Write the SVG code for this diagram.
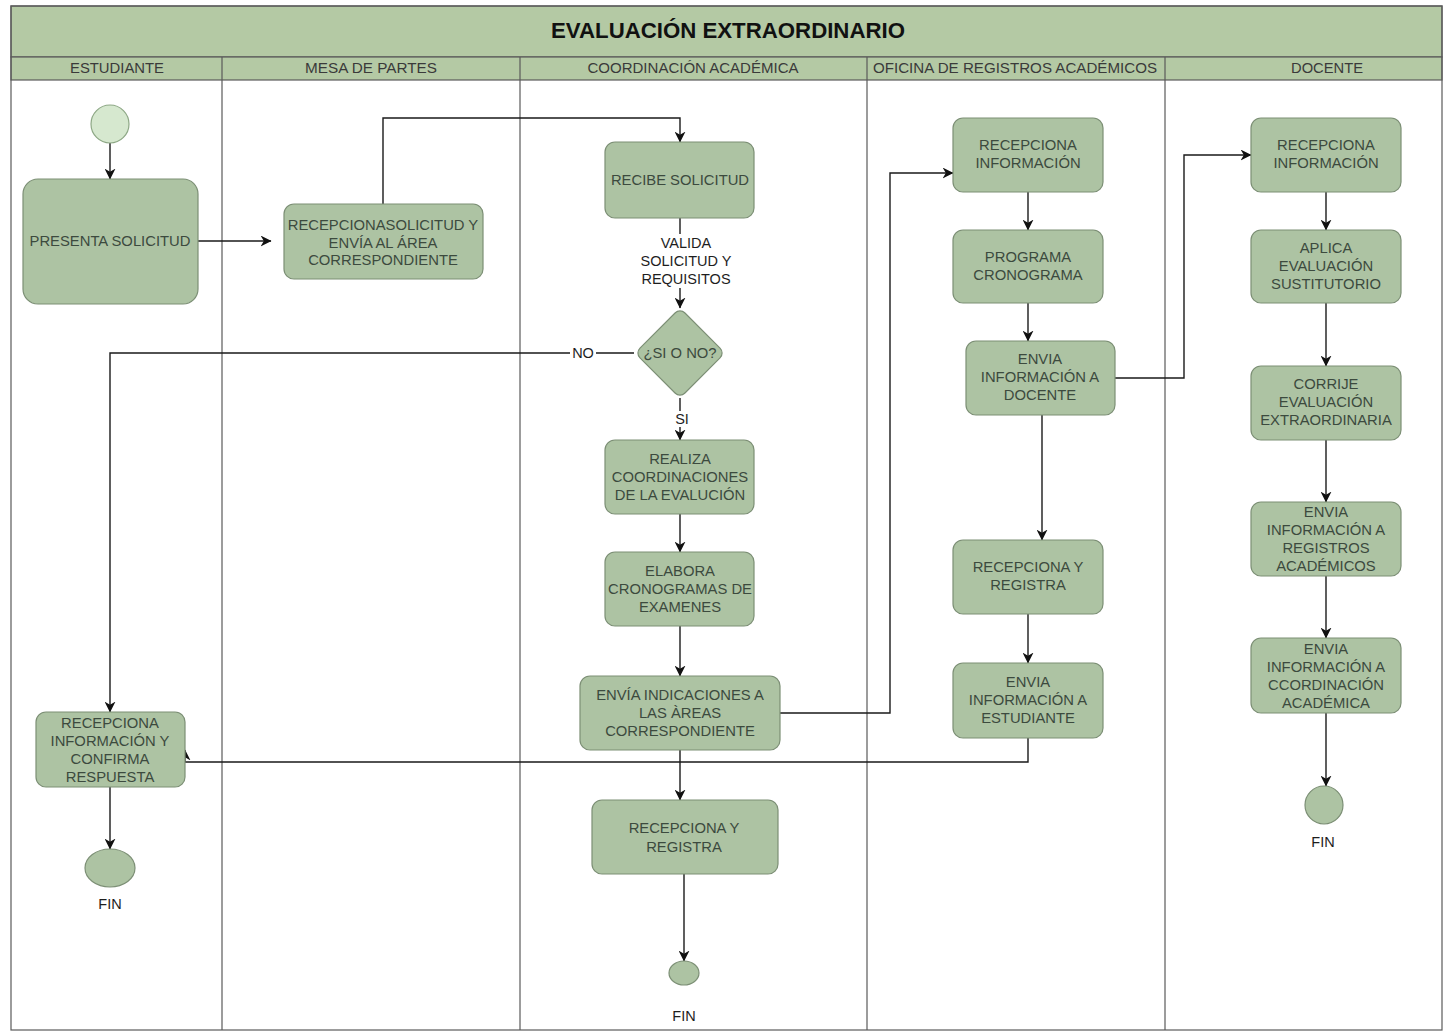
<svg xmlns="http://www.w3.org/2000/svg" width="1444" height="1032" viewBox="0 0 1444 1032">
<defs>
<style>
.band{fill:#b4c9a4;stroke:#5a5a5a;stroke-width:1.2}
.lane{fill:none;stroke:#5a5a5a;stroke-width:1.2}
.node{fill:#adc3a3;stroke:#7c8f75;stroke-width:1.2}
.start{fill:#d6e8cf;stroke:#8ea886;stroke-width:1.2}
.t{font-family:"Liberation Sans",Arial,sans-serif;font-size:14.8px;fill:#3c4a3e;text-anchor:middle}
.h{font-family:"Liberation Sans",Arial,sans-serif;font-size:14px;fill:#3a3a3a;text-anchor:middle}
.title{font-family:"Liberation Sans",Arial,sans-serif;font-size:22px;font-weight:bold;fill:#111;text-anchor:middle}
.lbl{font-family:"Liberation Sans",Arial,sans-serif;font-size:14.5px;fill:#1e1e1e;text-anchor:middle}
.lblbg{fill:#ffffff}
.edge{fill:none;stroke:#1a1a1a;stroke-width:1.4}
</style>
<marker id="arr" viewBox="0 0 10 10" refX="9.5" refY="5" markerWidth="11" markerHeight="11" orient="auto" markerUnits="userSpaceOnUse">
<path d="M0,0 L10,5 L0,10 L3,5 z" fill="#111"/>
</marker>
</defs>
<rect x="0" y="0" width="1444" height="1032" fill="#ffffff"/>

<g id="pool">
<rect class="band" x="11" y="6" width="1431" height="51"/>
<rect class="band" x="11" y="57" width="1431" height="23"/>
<rect class="lane" x="11" y="6" width="1431" height="1024"/>
<line class="lane" x1="222" y1="57" x2="222" y2="1030"/>
<line class="lane" x1="520" y1="57" x2="520" y2="1030"/>
<line class="lane" x1="867" y1="57" x2="867" y2="1030"/>
<line class="lane" x1="1165" y1="57" x2="1165" y2="1030"/>
<text class="title" x="728" y="38" textLength="354" lengthAdjust="spacingAndGlyphs">EVALUACIÓN EXTRAORDINARIO</text>
<text class="h" x="117" y="73" textLength="94" lengthAdjust="spacingAndGlyphs">ESTUDIANTE</text>
<text class="h" x="371" y="73" textLength="132" lengthAdjust="spacingAndGlyphs">MESA DE PARTES</text>
<text class="h" x="693" y="73" textLength="211" lengthAdjust="spacingAndGlyphs">COORDINACIÓN ACADÉMICA</text>
<text class="h" x="1015" y="73" textLength="284" lengthAdjust="spacingAndGlyphs">OFICINA DE REGISTROS ACADÉMICOS</text>
<text class="h" x="1327" y="73" textLength="72" lengthAdjust="spacingAndGlyphs">DOCENTE</text>
</g>

<g id="connectors">
<path class="edge" d="M110,143 L110,179" marker-end="url(#arr)"/>
<path class="edge" d="M198,241 L271,241" marker-end="url(#arr)"/>
<path class="edge" d="M383,204 L383,118 L680,118 L680,142" marker-end="url(#arr)"/>
<path class="edge" d="M680,218 L680,308" marker-end="url(#arr)"/>
<rect class="lblbg" x="637" y="234" width="96" height="54"/>
<text class="lbl" x="686" y="248">VALIDA</text>
<text class="lbl" x="686" y="266">SOLICITUD Y</text>
<text class="lbl" x="686" y="284">REQUISITOS</text>
<path class="edge" d="M634,353 L110,353 L110,712" marker-end="url(#arr)"/>
<rect class="lblbg" x="570" y="345" width="26" height="16"/>
<text class="lbl" x="583" y="358">NO</text>
<path class="edge" d="M680,398 L680,440" marker-end="url(#arr)"/>
<rect class="lblbg" x="674" y="411" width="16" height="16"/>
<text class="lbl" x="682" y="424">SI</text>
<path class="edge" d="M680,514 L680,552" marker-end="url(#arr)"/>
<path class="edge" d="M680,626 L680,676" marker-end="url(#arr)"/>
<path class="edge" d="M680,750 L680,800" marker-end="url(#arr)"/>
<path class="edge" d="M684,874 L684,961" marker-end="url(#arr)"/>
<path class="edge" d="M780,713 L890,713 L890,173 L953,173" marker-end="url(#arr)"/>
<path class="edge" d="M1028,192 L1028,230" marker-end="url(#arr)"/>
<path class="edge" d="M1028,303 L1028,341" marker-end="url(#arr)"/>
<path class="edge" d="M1042,415 L1042,540" marker-end="url(#arr)"/>
<path class="edge" d="M1028,614 L1028,663" marker-end="url(#arr)"/>
<path class="edge" d="M1028,738 L1028,762 L185,762 L185,750" marker-end="url(#arr)"/>
<path class="edge" d="M1115,378 L1184,378 L1184,155 L1251,155" marker-end="url(#arr)"/>
<path class="edge" d="M1326,192 L1326,230" marker-end="url(#arr)"/>
<path class="edge" d="M1326,303 L1326,366" marker-end="url(#arr)"/>
<path class="edge" d="M1326,440 L1326,502" marker-end="url(#arr)"/>
<path class="edge" d="M1326,576 L1326,638" marker-end="url(#arr)"/>
<path class="edge" d="M1326,713 L1326,786" marker-end="url(#arr)"/>
<path class="edge" d="M110,787 L110,849" marker-end="url(#arr)"/>
</g>

<g id="inicio"><circle class="start" cx="110" cy="124" r="19"/></g>

<g id="presenta-solicitud">
<rect class="node" x="23" y="179" width="175" height="125" rx="15"/>
<text class="t" x="110" y="246">PRESENTA SOLICITUD</text>
</g>

<g id="recepciona-solicitud">
<rect class="node" x="284" y="204" width="199" height="75" rx="10"/>
<text class="t" x="383" y="230">RECEPCIONASOLICITUD Y</text>
<text class="t" x="383" y="247.5">ENVÍA AL ÁREA</text>
<text class="t" x="383" y="265">CORRESPONDIENTE</text>
</g>

<g id="recibe-solicitud">
<rect class="node" x="605" y="142" width="149" height="76" rx="10"/>
<text class="t" x="680" y="185">RECIBE SOLICITUD</text>
</g>

<g id="decision">
<rect class="node" x="-31.8" y="-31.8" width="63.6" height="63.6" rx="7" transform="translate(680,353) rotate(45)"/>
<text class="t" x="680" y="358">¿SI O NO?</text>
</g>

<g id="realiza-coordinaciones">
<rect class="node" x="605" y="440" width="149" height="74" rx="10"/>
<text class="t" x="680" y="464">REALIZA</text>
<text class="t" x="680" y="482">COORDINACIONES</text>
<text class="t" x="680" y="500">DE LA EVALUCIÓN</text>
</g>

<g id="elabora-cronogramas">
<rect class="node" x="605" y="552" width="149" height="74" rx="10"/>
<text class="t" x="680" y="576">ELABORA</text>
<text class="t" x="680" y="594">CRONOGRAMAS DE</text>
<text class="t" x="680" y="612">EXAMENES</text>
</g>

<g id="envia-indicaciones">
<rect class="node" x="580" y="676" width="200" height="74" rx="10"/>
<text class="t" x="680" y="700">ENVÍA INDICACIONES A</text>
<text class="t" x="680" y="718">LAS ÀREAS</text>
<text class="t" x="680" y="736">CORRESPONDIENTE</text>
</g>

<g id="ca-recepciona-registra">
<rect class="node" x="592" y="800" width="186" height="74" rx="10"/>
<text class="t" x="684" y="833">RECEPCIONA Y</text>
<text class="t" x="684" y="852">REGISTRA</text>
</g>

<g id="ca-fin">
<ellipse class="node" cx="684" cy="973" rx="15" ry="12"/>
<text class="lbl" x="684" y="1021">FIN</text>
</g>

<g id="ora-recepciona-info">
<rect class="node" x="953" y="118" width="150" height="74" rx="10"/>
<text class="t" x="1028" y="150">RECEPCIONA</text>
<text class="t" x="1028" y="168">INFORMACIÓN</text>
</g>

<g id="programa-cronograma">
<rect class="node" x="953" y="230" width="150" height="73" rx="10"/>
<text class="t" x="1028" y="262">PROGRAMA</text>
<text class="t" x="1028" y="280">CRONOGRAMA</text>
</g>

<g id="envia-docente">
<rect class="node" x="966" y="341" width="149" height="74" rx="10"/>
<text class="t" x="1040" y="364">ENVIA</text>
<text class="t" x="1040" y="382">INFORMACIÓN A</text>
<text class="t" x="1040" y="400">DOCENTE</text>
</g>

<g id="ora-recepciona-registra">
<rect class="node" x="953" y="540" width="150" height="74" rx="10"/>
<text class="t" x="1028" y="572">RECEPCIONA Y</text>
<text class="t" x="1028" y="590">REGISTRA</text>
</g>

<g id="envia-estudiante">
<rect class="node" x="953" y="663" width="150" height="75" rx="10"/>
<text class="t" x="1028" y="687">ENVIA</text>
<text class="t" x="1028" y="705">INFORMACIÓN A</text>
<text class="t" x="1028" y="723">ESTUDIANTE</text>
</g>

<g id="doc-recepciona-info">
<rect class="node" x="1251" y="118" width="150" height="74" rx="10"/>
<text class="t" x="1326" y="150">RECEPCIONA</text>
<text class="t" x="1326" y="168">INFORMACIÓN</text>
</g>

<g id="aplica-evaluacion">
<rect class="node" x="1251" y="230" width="150" height="73" rx="10"/>
<text class="t" x="1326" y="253">APLICA</text>
<text class="t" x="1326" y="271">EVALUACIÓN</text>
<text class="t" x="1326" y="289">SUSTITUTORIO</text>
</g>

<g id="corrije-evaluacion">
<rect class="node" x="1251" y="366" width="150" height="74" rx="10"/>
<text class="t" x="1326" y="389">CORRIJE</text>
<text class="t" x="1326" y="407">EVALUACIÓN</text>
<text class="t" x="1326" y="425">EXTRAORDINARIA</text>
</g>

<g id="envia-registros">
<rect class="node" x="1251" y="502" width="150" height="74" rx="10"/>
<text class="t" x="1326" y="517">ENVIA</text>
<text class="t" x="1326" y="535">INFORMACIÓN A</text>
<text class="t" x="1326" y="553">REGISTROS</text>
<text class="t" x="1326" y="571">ACADÉMICOS</text>
</g>

<g id="envia-coordinacion">
<rect class="node" x="1251" y="638" width="150" height="75" rx="10"/>
<text class="t" x="1326" y="654">ENVIA</text>
<text class="t" x="1326" y="672">INFORMACIÓN A</text>
<text class="t" x="1326" y="690">CCORDINACIÓN</text>
<text class="t" x="1326" y="708">ACADÉMICA</text>
</g>

<g id="doc-fin">
<circle class="node" cx="1324" cy="805" r="19"/>
<text class="lbl" x="1323" y="847">FIN</text>
</g>

<g id="recepciona-confirma">
<rect class="node" x="36" y="712" width="149" height="75" rx="10"/>
<text class="t" x="110" y="728">RECEPCIONA</text>
<text class="t" x="110" y="746">INFORMACIÓN Y</text>
<text class="t" x="110" y="764">CONFIRMA</text>
<text class="t" x="110" y="782">RESPUESTA</text>
</g>

<g id="est-fin">
<ellipse class="node" cx="110" cy="868" rx="25" ry="19"/>
<text class="lbl" x="110" y="909">FIN</text>
</g>
</svg>
